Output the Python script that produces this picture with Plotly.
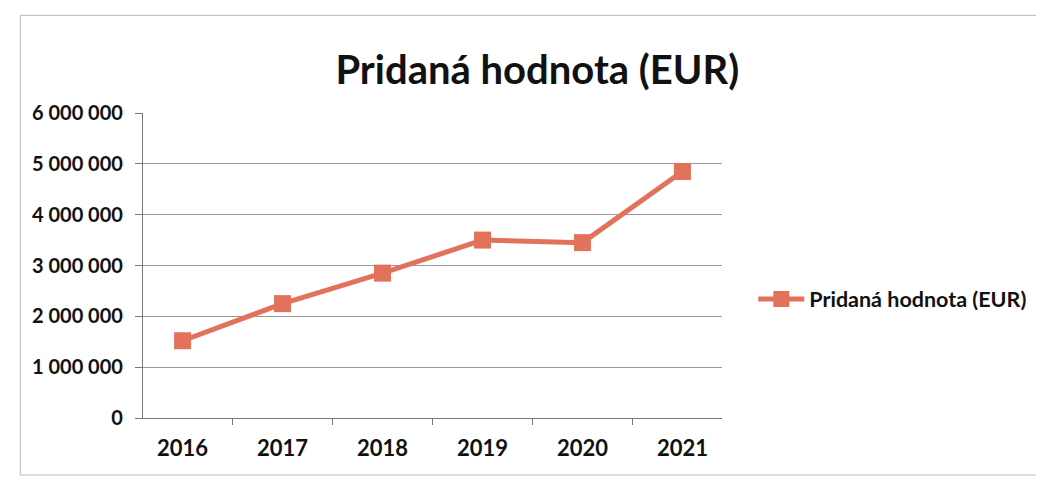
import plotly.graph_objects as go

years = ["2016", "2017", "2018", "2019", "2020", "2021"]
values = [1520000, 2250000, 2850000, 3500000, 3450000, 4850000]
series_name = "Pridaná hodnota (EUR)"
chart_title = "Pridaná hodnota (EUR)"
y_ticks = [0, 1000000, 2000000, 3000000, 4000000, 5000000, 6000000]

color = "#E2725B"
font_family = "Lato, 'Open Sans', sans-serif"

y_ticktext = ["<b>" + f"{v:,}".replace(",", " ") + "</b>" for v in y_ticks]
x_ticktext = ["<b>" + y + "</b>" for y in years]

fig = go.Figure()
fig.add_trace(go.Scatter(
    x=years, y=values, name="<b>" + series_name + "</b>", mode="lines+markers",
    line=dict(color=color, width=5),
    marker=dict(symbol="square", size=17, color=color),
))

fig.update_layout(
    width=1044, height=490,
    margin=dict(l=135, r=330, t=105, b=80),
    paper_bgcolor="white", plot_bgcolor="white",
    font=dict(family=font_family, color="#1a1a1a"),
    title=dict(text="<b>" + chart_title + "</b>", x=0.507, xanchor="center",
               y=1 - 62 / 490, yanchor="middle", yref="container",
               font=dict(size=40, family=font_family, color="#111")),
    showlegend=True,
    legend=dict(x=1.054, y=0.39, xanchor="left", yanchor="middle",
                font=dict(size=21.5, family=font_family, color="#111"),
                bgcolor="rgba(0,0,0,0)", itemwidth=46),
    xaxis=dict(type="category", showgrid=False, showline=True,
               linecolor="#777", linewidth=1.2, ticks="outside",
               tickson="boundaries", ticklen=6, tickcolor="#777",
               tickvals=years, ticktext=x_ticktext,
               tickfont=dict(size=22, family=font_family, color="#111"),
               ticklabelstandoff=10),
    yaxis=dict(range=[0, 6000000], tickvals=y_ticks, ticktext=y_ticktext,
               showgrid=True, gridcolor="#999", gridwidth=1,
               showline=True, linecolor="#777", linewidth=1.2,
               ticks="outside", ticklen=7, tickcolor="#777",
               tickfont=dict(size=20, family=font_family, color="#111"),
               zeroline=False, ticklabelstandoff=8),
)

fig.add_shape(type="rect", xref="paper", yref="paper",
              x0=-0.212, x1=1.55, y0=-0.187, y1=1.32,
              line=dict(color="#bbb", width=1), layer="below")

fig.write_html("out.html")
